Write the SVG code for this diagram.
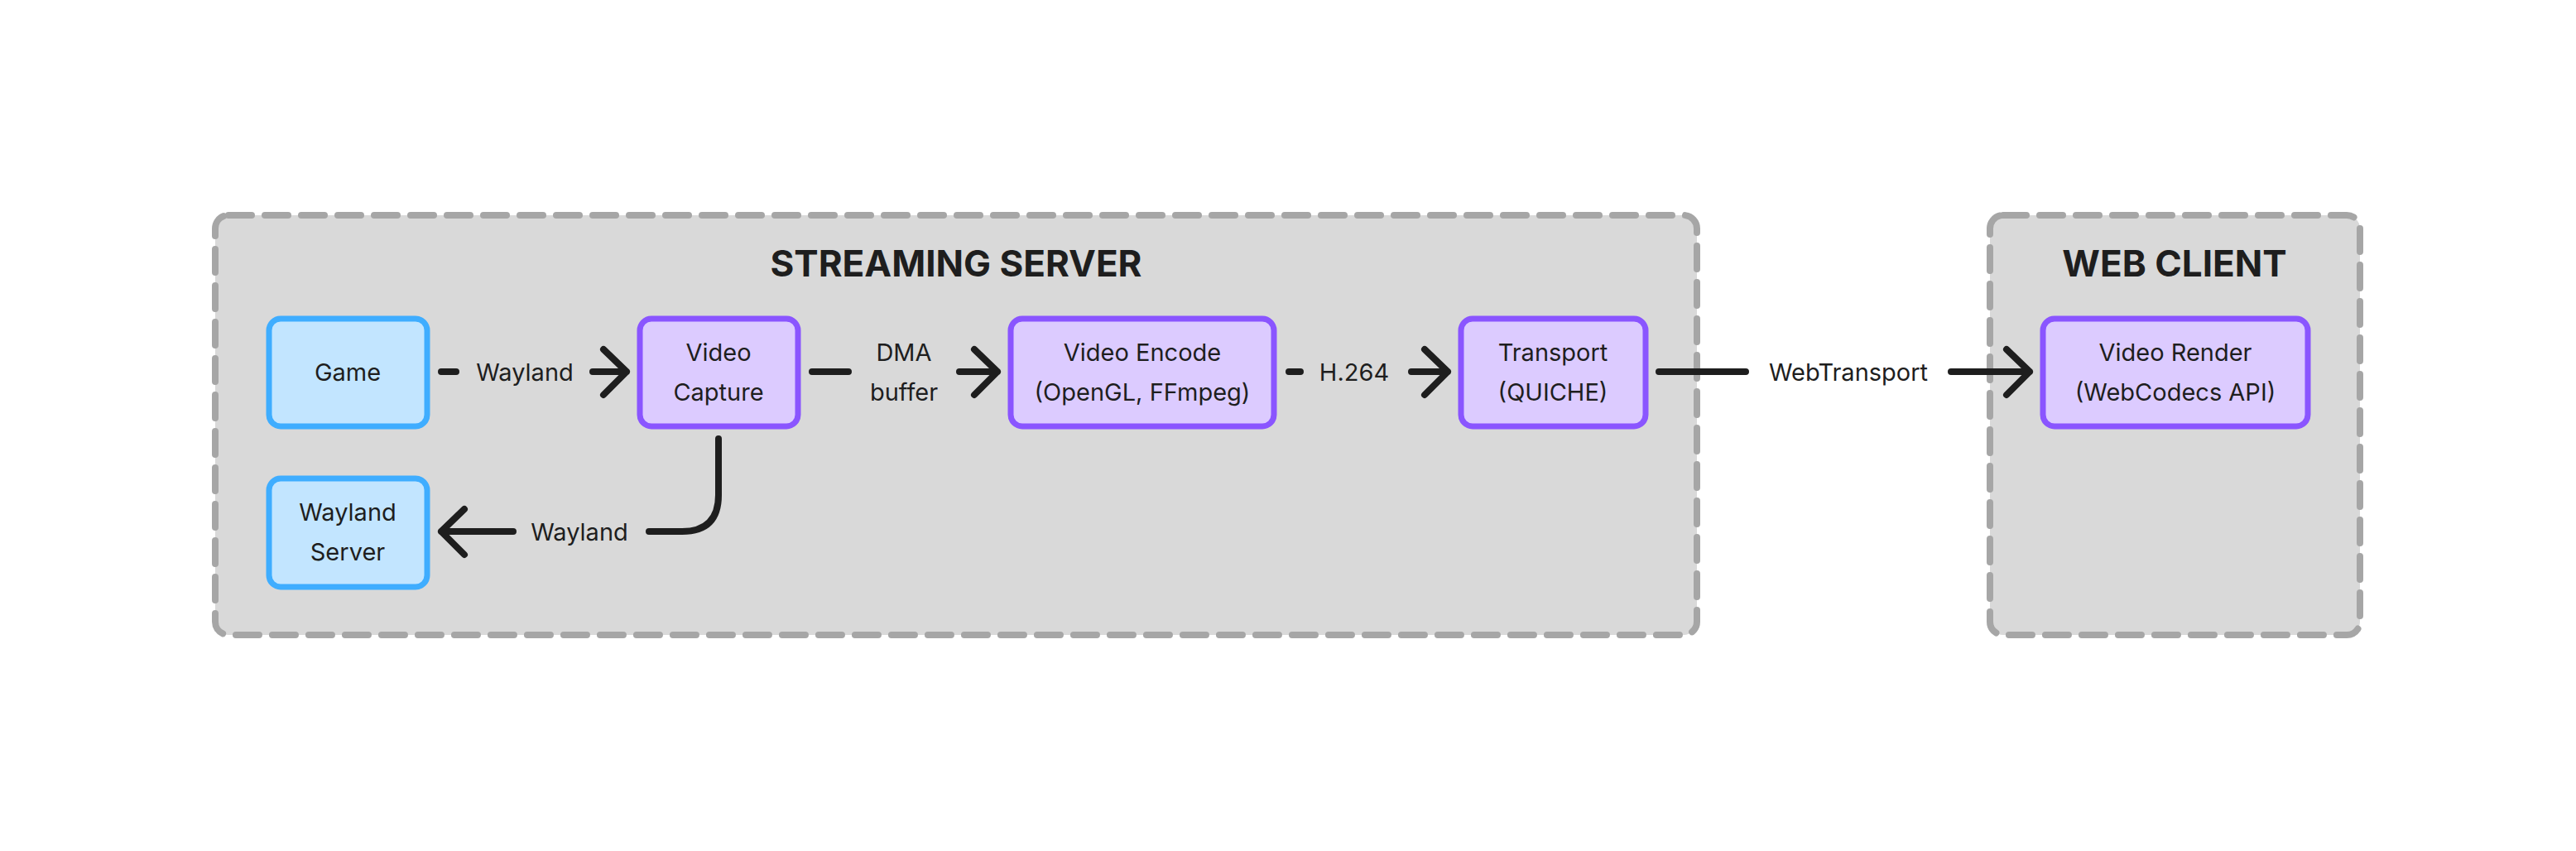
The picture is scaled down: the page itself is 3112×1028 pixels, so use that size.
<svg xmlns="http://www.w3.org/2000/svg" width="3112" height="1028" viewBox="0 0 3112 1028">
<style>
.grp{fill:#d9d9d9;stroke:#a6a6a6;stroke-width:8;stroke-dasharray:28 16;stroke-linecap:round}
.blue{fill:#c2e5ff;stroke:#3fadff;stroke-width:7}
.pur{fill:#dccbff;stroke:#8a55ff;stroke-width:7}
.t{font-family:Inter,"Liberation Sans",sans-serif;font-size:29px;fill:#1e1e1e;text-anchor:middle}
.h{font-family:Inter,"Liberation Sans",sans-serif;font-size:44px;font-weight:bold;fill:#1e1e1e;text-anchor:middle}
.c{fill:none;stroke:#1e1e1e;stroke-width:8;stroke-linecap:round;stroke-linejoin:round}
</style>
<rect width="3112" height="1028" fill="#fff"/>
<g id="streaming-server"><rect class="grp" x="260" y="260" width="1790" height="507" rx="16"/><text class="h" x="1155" y="334">STREAMING SERVER</text></g>
<g id="web-client"><rect class="grp" x="2404" y="260" width="447" height="507" rx="16"/><text class="h" x="2627" y="334">WEB CLIENT</text></g>
<g id="game"><rect class="blue" x="325" y="385" width="191" height="130" rx="14"/><text class="t" x="420" y="460">Game</text></g>
<g id="wayland-server"><rect class="blue" x="325" y="578" width="191" height="131" rx="14"/><text class="t" x="420" y="629">Wayland</text><text class="t" x="420" y="677">Server</text></g>
<g id="video-capture"><rect class="pur" x="773" y="385" width="191" height="130" rx="14"/><text class="t" x="868" y="436">Video</text><text class="t" x="868" y="484">Capture</text></g>
<g id="video-encode"><rect class="pur" x="1221" y="385" width="318" height="130" rx="14"/><text class="t" x="1380" y="436">Video Encode</text><text class="t" x="1380" y="484">(OpenGL, FFmpeg)</text></g>
<g id="transport"><rect class="pur" x="1765" y="385" width="223" height="130" rx="14"/><text class="t" x="1876" y="436">Transport</text><text class="t" x="1876" y="484">(QUICHE)</text></g>
<g id="video-render"><rect class="pur" x="2468" y="385" width="320" height="130" rx="14"/><text class="t" x="2628" y="436">Video Render</text><text class="t" x="2628" y="484">(WebCodecs API)</text></g>
<g id="connectors">
<path class="c" d="M533 449H551M716 449H757M729 422L757 449L729 477"/>
<text class="t" x="634" y="460">Wayland</text>
<path class="c" d="M981 449H1025M1159 449H1205M1177 422L1205 449L1177 477"/>
<text class="t" x="1092" y="436">DMA</text><text class="t" x="1092" y="484">buffer</text>
<path class="c" d="M1557 449H1571M1705 449H1749M1721 422L1749 449L1721 477"/>
<text class="t" x="1636" y="460">H.264</text>
<path class="c" d="M2004 449H2109M2357 449H2452M2424 422L2452 449L2424 477"/>
<text class="t" x="2233" y="460">WebTransport</text>
<path class="c" d="M868 530V598Q868 642 824 642H784M620 642H533M561 615L533 642L561 670"/>
<text class="t" x="700" y="653">Wayland</text>
</g>
</svg>
